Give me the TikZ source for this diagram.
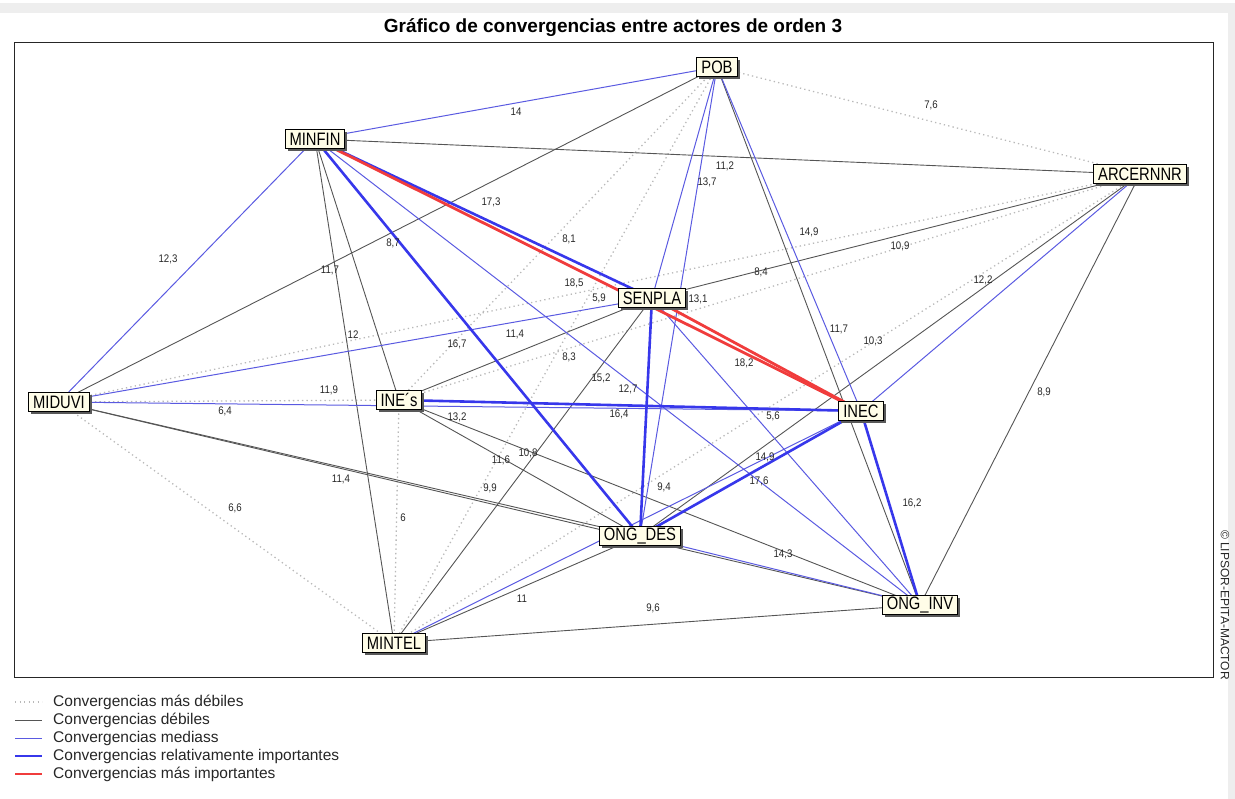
\documentclass[tikz,border=0pt]{standalone}
\usepackage{fontspec}
\setmainfont{Liberation Sans}
\newfontfamily\actorfont[FakeStretch=0.82]{Liberation Sans}
\newfontfamily\valuefont[FakeStretch=0.88]{Liberation Sans}
\usetikzlibrary{backgrounds,shadows}

\definecolor{boxfill}{RGB}{255,253,232}
\definecolor{weakestgray}{RGB}{185,185,185}
\definecolor{weakgray}{RGB}{85,85,85}
\definecolor{midblue}{RGB}{90,90,225}
\definecolor{strongblue}{RGB}{55,55,235}
\definecolor{topred}{RGB}{240,60,60}
\definecolor{bandgray}{RGB}{238,238,238}

\begin{document}
\begin{tikzpicture}[x=1pt,y=-1pt,
  actor/.style={draw=black, line width=1pt, fill=boxfill,
    font=\actorfont\fontsize{18}{18}\selectfont,
    inner xsep=4.5pt, inner ysep=0pt, minimum height=19pt,
    drop shadow={shadow xshift=2.5pt, shadow yshift=-2.5pt, fill=black!65, opacity=1}},
  value/.style={font=\valuefont\fontsize{11}{11}\selectfont, inner sep=0pt, text=black!85},
  legendtext/.style={font=\fontsize{15.5}{15.5}\selectfont, anchor=west, inner sep=0pt, text=black!85},
  weakest/.style={draw=weakestgray, line width=1.3pt, dash pattern=on 1.3pt off 3.2pt},
  weak/.style={draw=weakgray, line width=0.9pt},
  medium/.style={draw=midblue, line width=1pt},
  important/.style={draw=strongblue, line width=2.6pt},
  crucial/.style={draw=topred, line width=2.8pt}]

\useasboundingbox (0,0) rectangle (1235,799);

% window chrome
\fill[bandgray] (0,3) rectangle (1235,13);
\fill[bandgray] (1228,13) rectangle (1235,799);

% title and plot frame
\node[font=\bfseries\fontsize{19}{19}\selectfont, anchor=base, inner sep=0pt] (title) at (613,33)
  {Gráfico de convergencias entre actores de orden 3};
\draw[black!85, line width=1pt] (14,43) rectangle (1213,677);

% actors
\node[actor] (POB)    at (717,67)    {POB};
\node[actor] (MINFIN) at (315,139)   {MINFIN};
\node[actor] (ARC)    at (1140,174.5){ARCERNNR};
\node[actor] (SENPLA) at (652,298)   {SENPLA};
\node[actor] (MIDUVI) at (59,402)    {MIDUVI};
\node[actor] (INES)   at (399,400)   {INE´s};
\node[actor] (INEC)   at (861,411)   {INEC};
\node[actor] (ONGDES) at (640,536)   {ONG\_DES};
\node[actor] (ONGINV) at (920,605)   {ONG\_INV};
\node[actor] (MINTEL) at (394,643)   {MINTEL};

% convergence links, weakest first so the strongest stay on top
\begin{scope}[on background layer]
  \foreach \a/\b in {POB/ARC, POB/INES, POB/MINTEL, ARC/MIDUVI, ARC/INES,
                     ARC/MINTEL, MIDUVI/INES, MIDUVI/MINTEL, INES/MINTEL}
    \draw[weakest] (\a.center) -- (\b.center);
  \foreach \a/\b in {POB/MIDUVI, POB/ONGINV, MINFIN/ARC, MINFIN/INES, MINFIN/MINTEL,
                     ARC/SENPLA, ARC/ONGDES, ARC/ONGINV, SENPLA/INES, SENPLA/MINTEL,
                     MIDUVI/ONGDES, MIDUVI/ONGINV, INES/ONGDES, INES/ONGINV,
                     ONGDES/MINTEL, ONGINV/MINTEL}
    \draw[weak] (\a.center) -- (\b.center);
  \foreach \a/\b in {POB/MINFIN, POB/SENPLA, POB/INEC, POB/ONGDES, MINFIN/MIDUVI,
                     MINFIN/ONGINV, ARC/INEC, SENPLA/MIDUVI, SENPLA/ONGINV,
                     MIDUVI/INEC, INEC/MINTEL, ONGDES/ONGINV}
    \draw[medium] (\a.center) -- (\b.center);
  \foreach \a/\b in {MINFIN/SENPLA, MINFIN/ONGDES, SENPLA/ONGDES, INES/INEC,
                     INEC/ONGDES, INEC/ONGINV}
    \draw[important] (\a.center) -- (\b.center);
  \foreach \a/\b in {MINFIN/INEC, SENPLA/INEC}
    \draw[crucial] (\a.center) -- (\b.center);
\end{scope}

% convergence values
\node[value] (vPF) at (516,112) {14};
\node[value] (vPA) at (931,105) {7,6};
\node[value] (vPS) at (707,182) {13,7};
\node[value] (vPD) at (393,243) {8,7};
\node[value] (vPI) at (569,239) {8,1};
\node[value] (vPC) at (809,232) {14,9};
\node[value] (vPG) at (698,299) {13,1};
\node[value] (vPV) at (839,329) {11,7};
\node[value] (vPT) at (569,357) {8,3};
\node[value] (vFA) at (725,166) {11,2};
\node[value] (vFS) at (491,202) {17,3};
\node[value] (vFD) at (168,259) {12,3};
\node[value] (vFI) at (330,270) {11,7};
\node[value] (vFT) at (329,390) {11,9};
\node[value] (vFC) at (574,283) {18,5};
\node[value] (vFG) at (457,344) {16,7};
\node[value] (vFV) at (628,389) {12,7};
\node[value] (vAS) at (900,246) {10,9};
\node[value] (vAD) at (599,298) {5,9};
\node[value] (vAI) at (761,272) {8,4};
\node[value] (vAC) at (983,280) {12,2};
\node[value] (vAG) at (873,341) {10,3};
\node[value] (vAV) at (1044,392) {8,9};
\node[value] (vAT) at (773,416) {5,6};
\node[value] (vSD) at (353,335) {12};
\node[value] (vSI) at (515,334) {11,4};
\node[value] (vSC) at (744,363) {18,2};
\node[value] (vSG) at (601,378) {15,2};
\node[value] (vST) at (528,453) {10,8};
\node[value] (vIG) at (501,460) {11,6};
\node[value] (vDI) at (225,411) {6,4};
\node[value] (vDC) at (457,417) {13,2};
\node[value] (vDG) at (341,479) {11,4};
\node[value] (vDV) at (490,488) {9,9};
\node[value] (vDT) at (235,508) {6,6};
\node[value] (vIC) at (619,414) {16,4};
\node[value] (vIV) at (664,487) {9,4};
\node[value] (vIT) at (403,518) {6};
\node[value] (vCG) at (759,481) {17,6};
\node[value] (vCT) at (765,457) {14,9};
\node[value] (vCV) at (912,503) {16,2};
\node[value] (vGV) at (783,554) {14,3};
\node[value] (vGT) at (522,599) {11};
\node[value] (vVT) at (653,608) {9,6};

% credit line
\node[rotate=-90, font=\fontsize{12}{12}\selectfont, inner sep=0pt, text=black!85] (credit)
  at (1225,605) {© LIPSOR-EPITA-MACTOR};

% legend
\coordinate (k1a) at (15,702); \coordinate (k1b) at (42,702);
\coordinate (k2a) at (15,720); \coordinate (k2b) at (42,720);
\coordinate (k3a) at (15,738); \coordinate (k3b) at (42,738);
\coordinate (k4a) at (15,756); \coordinate (k4b) at (42,756);
\coordinate (k5a) at (15,774); \coordinate (k5b) at (42,774);
\draw[weakest] (k1a) -- (k1b);
\draw[weak] (k2a) -- (k2b);
\draw[medium] (k3a) -- (k3b);
\draw[important] (k4a) -- (k4b);
\draw[crucial] (k5a) -- (k5b);
\node[legendtext] (t1) at (53,702) {Convergencias más débiles};
\node[legendtext] (t2) at (53,720) {Convergencias débiles};
\node[legendtext] (t3) at (53,738) {Convergencias mediass};
\node[legendtext] (t4) at (53,756) {Convergencias relativamente importantes};
\node[legendtext] (t5) at (53,774) {Convergencias más importantes};
\end{tikzpicture}
\end{document}
